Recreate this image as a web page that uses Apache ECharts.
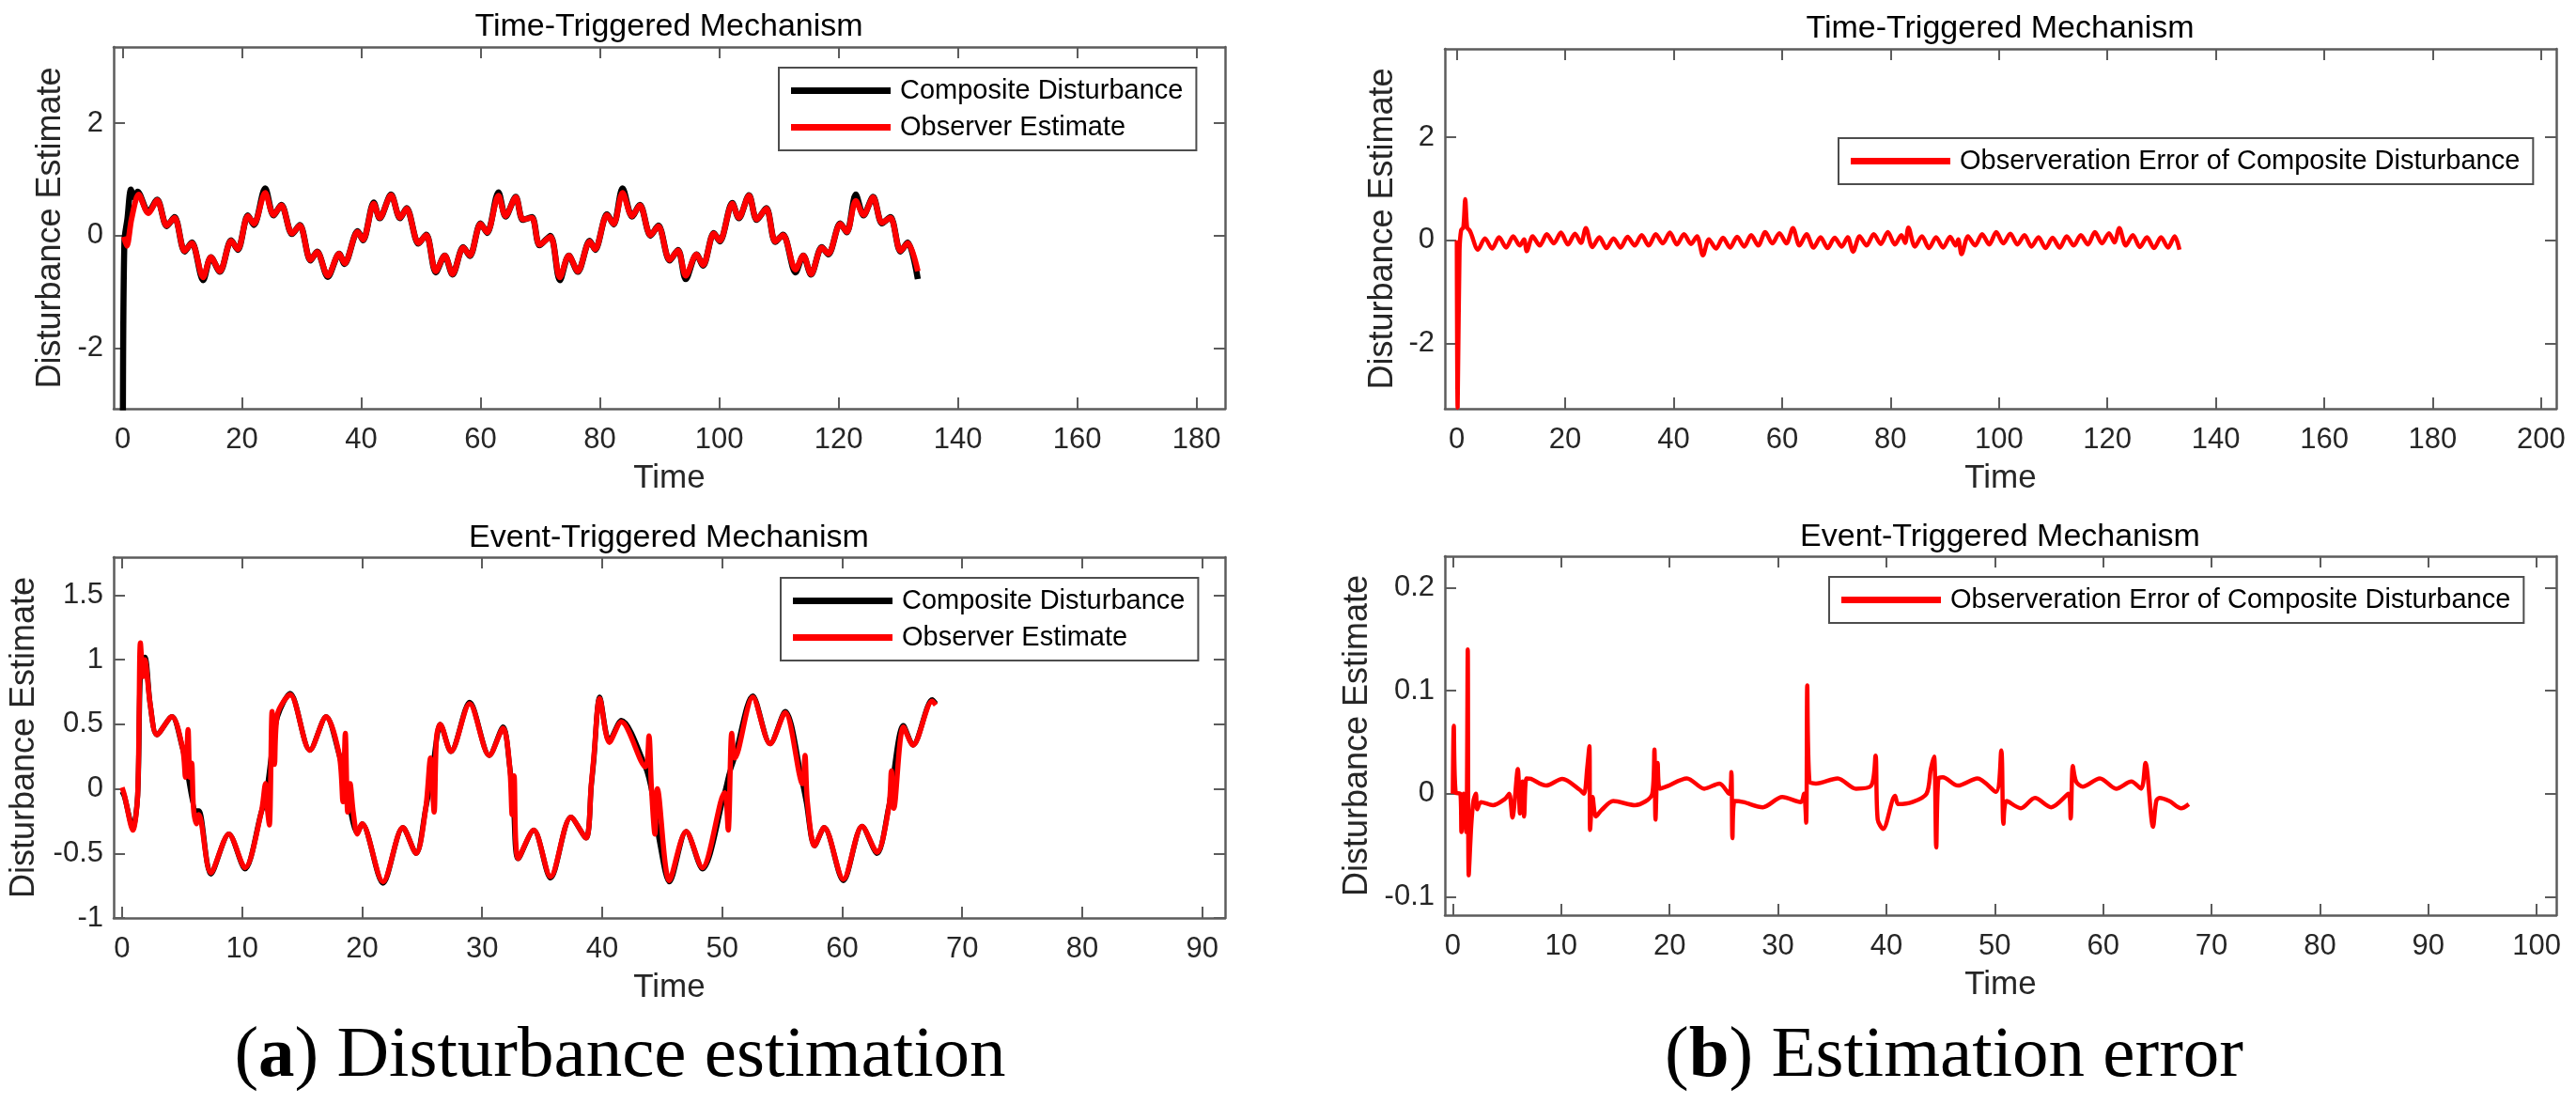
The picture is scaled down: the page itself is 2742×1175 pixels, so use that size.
<!DOCTYPE html>
<html>
<head>
<meta charset="utf-8">
<script src="https://cdn.jsdelivr.net/npm/echarts@6/dist/echarts.min.js"></script>
<style>
  html, body { margin: 0; padding: 0; background: #fff; }
  #chart { width: 2742px; height: 1175px; }
</style>
</head>
<body>
<div id="chart"></div>
<script>
// tick values
var ttTimeTicks = [0, 20, 40, 60, 80, 100, 120, 140, 160, 180];
var ttErrTimeTicks = [0, 20, 40, 60, 80, 100, 120, 140, 160, 180, 200];
var etTimeTicks = [0, 10, 20, 30, 40, 50, 60, 70, 80, 90];
var etErrTimeTicks = [0, 10, 20, 30, 40, 50, 60, 70, 80, 90, 100];
var ttValueTicks = [-2, 0, 2];
var etValueTicks = [-1, -0.5, 0, 0.5, 1, 1.5];
var etErrValueTicks = [-0.1, 0, 0.1, 0.2];

// time-triggered: [time, value]
var ttComposite = [[0.05,-3.1],[0.3,-0.1],[0.8,0.3],[1.4,0.82],[1.9,0.68],[2.5,0.78],[4.3,0.42],[5.8,0.64],[7.4,0.17],[8.7,0.33],[10.4,-0.28],[11.6,-0.12],[13.5,-0.79],[14.8,-0.38],[16.3,-0.64],[18.2,-0.08],[19.3,-0.25],[21.0,0.36],[22.0,0.19],[23.9,0.84],[25.3,0.36],[26.6,0.55],[28.4,0.03],[29.7,0.19],[31.5,-0.44],[32.6,-0.28],[34.4,-0.73],[36.3,-0.32],[37.2,-0.5],[39.4,0.08],[40.3,-0.08],[42.1,0.59],[43.1,0.31],[45.0,0.73],[46.5,0.31],[47.6,0.49],[49.6,-0.14],[50.9,0.02],[52.5,-0.65],[54.0,-0.35],[55.3,-0.69],[57.1,-0.2],[58.2,-0.36],[60.0,0.22],[61.1,0.05],[63.0,0.77],[64.2,0.34],[65.9,0.69],[67.1,0.28],[68.6,0.33],[69.9,-0.17],[71.7,0.0],[73.3,-0.79],[74.8,-0.35],[76.3,-0.64],[78.3,-0.09],[79.2,-0.25],[81.2,0.38],[82.3,0.2],[83.8,0.84],[85.4,0.34],[86.7,0.55],[88.5,0.0],[89.8,0.18],[91.7,-0.44],[93.1,-0.25],[94.4,-0.77],[96.2,-0.33],[97.3,-0.53],[99.1,0.05],[100.1,-0.1],[102.2,0.58],[103.3,0.31],[105.0,0.72],[106.3,0.28],[107.9,0.49],[109.4,-0.11],[110.7,0.02],[112.8,-0.65],[114.1,-0.35],[115.4,-0.69],[117.2,-0.2],[118.3,-0.33],[120.3,0.22],[121.4,0.06],[122.9,0.73],[124.2,0.36],[125.8,0.69],[127.3,0.22],[128.7,0.33],[130.4,-0.28],[131.6,-0.12],[133.3,-0.77]];
var ttEstimate = [[0.2,-0.02],[0.7,-0.18],[1.5,0.3],[2.7,0.73],[4.3,0.4],[5.8,0.63],[7.4,0.18],[8.7,0.32],[10.4,-0.27],[11.6,-0.13],[13.5,-0.74],[14.8,-0.38],[16.3,-0.63],[18.2,-0.09],[19.3,-0.24],[21.0,0.35],[22.0,0.21],[23.9,0.76],[25.3,0.37],[26.6,0.54],[28.4,0.04],[29.7,0.18],[31.5,-0.43],[32.6,-0.29],[34.4,-0.71],[36.3,-0.32],[37.2,-0.49],[39.4,0.07],[40.3,-0.07],[42.1,0.57],[43.1,0.32],[45.0,0.72],[46.5,0.32],[47.6,0.48],[49.6,-0.13],[50.9,0.01],[52.5,-0.63],[54.0,-0.35],[55.3,-0.68],[57.1,-0.21],[58.2,-0.35],[60.0,0.21],[61.1,0.06],[63.0,0.71],[64.2,0.35],[65.9,0.68],[67.1,0.29],[68.6,0.32],[69.9,-0.16],[71.7,-0.02],[73.3,-0.74],[74.8,-0.35],[76.3,-0.63],[78.3,-0.1],[79.2,-0.24],[81.2,0.37],[82.3,0.21],[83.8,0.76],[85.4,0.35],[86.7,0.54],[88.5,0.01],[89.8,0.17],[91.7,-0.43],[93.1,-0.26],[94.4,-0.71],[96.2,-0.33],[97.3,-0.52],[99.1,0.04],[100.1,-0.09],[102.2,0.57],[103.3,0.32],[105.0,0.71],[106.3,0.29],[107.9,0.48],[109.4,-0.1],[110.7,0.01],[112.8,-0.6],[114.1,-0.35],[115.4,-0.68],[117.2,-0.21],[118.3,-0.32],[120.3,0.21],[121.4,0.07],[122.9,0.62],[124.2,0.37],[125.8,0.68],[127.3,0.23],[128.7,0.32],[130.4,-0.27],[131.6,-0.13],[133.3,-0.63]];
var ttError = [[0,0.0],[0.15,-3.25],[0.5,-0.2],[0.8,0.2],[1.2,0.25],[1.55,0.8],[1.9,0.25],[2.3,0.2],[2.6,0.14],[3.9,-0.18],[5.2,0.04],[6.5,-0.16],[7.8,0.06],[9.1,-0.14],[10.4,0.08],[11.6,-0.1],[12.4,0.02],[12.9,-0.21],[14.0,0.08],[15.3,-0.1],[16.6,0.12],[17.9,-0.06],[19.2,0.15],[20.5,-0.08],[21.8,0.13],[22.9,-0.05],[23.8,0.24],[25.0,-0.13],[26.3,0.06],[27.6,-0.15],[28.9,0.04],[30.2,-0.14],[31.5,0.07],[32.8,-0.1],[34.1,0.1],[35.4,-0.1],[36.7,0.12],[38.0,-0.06],[39.3,0.15],[40.6,-0.08],[41.9,0.12],[43.2,-0.07],[44.3,0.08],[45.4,-0.29],[46.5,0.02],[47.8,-0.16],[49.1,0.05],[50.4,-0.14],[51.7,0.07],[53.0,-0.12],[54.3,0.1],[55.6,-0.1],[56.9,0.16],[58.2,-0.06],[59.5,0.14],[60.8,-0.06],[62.0,0.24],[63.2,-0.1],[64.5,0.12],[65.8,-0.14],[67.1,0.06],[68.4,-0.15],[69.7,0.05],[71.0,-0.12],[72.1,0.06],[73.1,-0.22],[74.3,0.08],[75.6,-0.1],[76.9,0.12],[78.2,-0.07],[79.5,0.16],[80.8,-0.08],[82.0,0.1],[82.7,-0.05],[83.3,0.25],[84.5,-0.12],[85.8,0.08],[87.1,-0.15],[88.4,0.06],[89.7,-0.14],[91.0,0.07],[92.0,-0.1],[92.5,0.02],[93.1,-0.27],[94.3,0.08],[95.6,-0.1],[96.9,0.12],[98.2,-0.08],[99.5,0.16],[100.8,-0.06],[102.1,0.13],[103.4,-0.08],[104.7,0.1],[106.0,-0.12],[107.3,0.06],[108.6,-0.15],[109.9,0.05],[111.2,-0.14],[112.5,0.08],[113.8,-0.1],[115.1,0.1],[116.4,-0.08],[117.7,0.16],[119.0,-0.06],[120.3,0.14],[121.3,-0.04],[122.2,0.24],[123.4,-0.1],[124.7,0.1],[126.0,-0.13],[127.3,0.06],[128.6,-0.15],[129.9,0.06],[131.2,-0.14],[132.4,0.08],[133.3,-0.18]];

// event-triggered: [time, value]
var etComposite = [[0,-0.02],[0.2,-0.06],[0.9,-0.3],[1.3,-0.05],[1.55,0.95],[1.9,1.02],[2.35,0.65],[2.9,0.42],[4.15,0.56],[5.05,0.31],[5.3,0.2],[6.2,-0.17],[6.4,-0.17],[7.4,-0.66],[8.9,-0.35],[10.24,-0.62],[11.6,-0.18],[12.0,-0.05],[12.5,0.3],[12.95,0.56],[14.0,0.74],[15.65,0.3],[17.0,0.56],[18.1,0.26],[18.6,0.05],[19.6,-0.34],[20.0,-0.27],[21.74,-0.73],[23.4,-0.3],[24.5,-0.5],[25.3,-0.15],[25.8,0.1],[26.2,0.38],[26.5,0.5],[27.4,0.29],[28.96,0.67],[30.6,0.26],[31.75,0.48],[32.3,0.17],[32.6,-0.1],[33.0,-0.54],[34.3,-0.32],[35.7,-0.69],[37.4,-0.22],[38.65,-0.38],[39.1,0.03],[39.3,0.22],[39.8,0.71],[40.6,0.37],[41.6,0.53],[43.6,0.17],[44.2,-0.05],[44.8,-0.42],[45.6,-0.72],[47.0,-0.33],[48.35,-0.62],[50.2,-0.03],[50.6,0.12],[51.06,0.25],[52.55,0.72],[54.0,0.35],[55.25,0.6],[56.7,0.04],[57.0,-0.1],[57.7,-0.44],[58.5,-0.3],[60.1,-0.71],[61.66,-0.29],[62.9,-0.5],[63.9,-0.13],[64.1,0.0],[65.1,0.49],[65.9,0.34],[67.5,0.69],[67.8,0.66]];
var etEstimate = [[0,0.01],[0.2,-0.05],[0.9,-0.32],[1.3,-0.05],[1.53,1.13],[1.76,0.87],[1.9,1.0],[2.35,0.65],[2.9,0.42],[4.15,0.56],[5.05,0.31],[5.28,0.09],[5.5,0.46],[5.64,0.09],[5.8,0.2],[5.95,-0.15],[6.2,-0.27],[6.4,-0.2],[7.4,-0.65],[8.9,-0.35],[10.24,-0.61],[11.6,-0.18],[11.95,0.04],[12.05,-0.1],[12.27,-0.28],[12.5,0.6],[12.7,0.19],[12.95,0.58],[14.0,0.73],[15.65,0.3],[17.0,0.56],[18.1,0.26],[18.4,-0.1],[18.6,0.43],[18.8,-0.18],[19.0,0.04],[19.26,-0.18],[19.6,-0.35],[20.0,-0.27],[21.74,-0.72],[23.4,-0.3],[24.5,-0.5],[25.3,-0.15],[25.7,0.24],[26.0,-0.18],[26.2,0.4],[26.5,0.5],[27.4,0.29],[28.96,0.66],[30.6,0.26],[31.75,0.47],[32.3,0.17],[32.5,-0.2],[32.66,0.1],[33.0,-0.54],[34.3,-0.32],[35.7,-0.68],[37.4,-0.22],[38.65,-0.38],[39.1,0.04],[39.3,0.24],[39.8,0.7],[40.6,0.36],[41.6,0.52],[43.6,0.17],[43.9,0.41],[44.1,0.02],[44.4,-0.35],[44.6,0.0],[45.6,-0.71],[47.0,-0.33],[48.35,-0.61],[50.2,-0.03],[50.5,-0.32],[50.8,0.43],[51.06,0.24],[52.55,0.71],[54.0,0.35],[55.25,0.59],[56.7,0.04],[56.9,0.26],[57.1,-0.1],[57.7,-0.44],[58.5,-0.3],[60.1,-0.7],[61.66,-0.29],[62.9,-0.49],[63.9,-0.13],[64.1,0.14],[64.3,-0.15],[65.1,0.48],[65.9,0.34],[67.5,0.68],[67.8,0.65]];
var etError = [[0,0],[0.09,0.066],[0.27,0.001],[0.7,0],[0.8,-0.037],[1.0,0],[1.24,-0.037],[1.38,0.14],[1.47,-0.079],[1.7,-0.031],[1.9,-0.007],[2.13,0],[2.25,-0.015],[2.6,-0.008],[3.7,-0.011],[4.8,-0.005],[5.2,0],[5.5,-0.023],[6.0,0.024],[6.2,-0.019],[6.44,0.012],[6.58,-0.022],[6.8,0.015],[7.2,0.0145],[8.6,0.008],[10.1,0.0145],[11.7,0.004],[12.1,0],[12.4,0.025],[12.6,0.046],[12.67,-0.035],[12.9,-0.003],[13.2,-0.022],[13.7,-0.016],[14.8,-0.007],[16.8,-0.011],[18.4,0],[18.6,0.043],[18.7,-0.025],[18.9,0.03],[19.1,0.005],[19.7,0.007],[21.6,0.015],[23.2,0.005],[24.6,0.01],[25.5,0],[25.7,0.021],[25.8,-0.043],[26.0,-0.007],[26.8,-0.008],[28.6,-0.013],[30.4,-0.003],[32.1,-0.008],[32.4,0],[32.6,-0.028],[32.7,0.105],[32.9,0.012],[33.5,0.01],[35.5,0.015],[37.2,0.005],[38.6,0.008],[39.0,0.037],[39.2,-0.025],[39.7,-0.034],[40.8,-0.002],[41.1,-0.01],[42.4,-0.008],[43.7,0],[44.1,0.024],[44.4,0.036],[44.6,-0.052],[44.8,0.015],[45.2,0.016],[46.6,0.008],[48.4,0.015],[50.1,0.002],[50.6,0.042],[50.8,-0.029],[51.1,-0.007],[52.4,-0.014],[53.7,-0.004],[55.2,-0.013],[56.8,0],[57.0,-0.024],[57.2,0.027],[57.5,0.012],[58.1,0.007],[59.7,0.015],[61.2,0.005],[62.6,0.012],[63.5,0.005],[63.9,0.03],[64.6,-0.032],[64.9,-0.007],[65.2,-0.004],[66.1,-0.007],[67.2,-0.014],[67.9,-0.01]];

var FONT = '"Liberation Sans", Arial, sans-serif';
var SERIF = '"Liberation Serif", "Times New Roman", serif';
var AXIS_COLOR = '#5c5c5c';
var LABEL_COLOR = '#262626';

// one entry per subplot: grid box, axis range, ticks
var panels = [
  { grid: { left: 121, top: 50, width: 1183, height: 385 }, x: [-1.5, 184.8], y: [-3.07, 3.35], xTicks: ttTimeTicks, yTicks: ttValueTicks, yGap: 49 },
  { grid: { left: 1538, top: 52, width: 1183, height: 383 }, x: [-2.2, 202.8], y: [-3.27, 3.72], xTicks: ttErrTimeTicks, yTicks: ttValueTicks, yGap: 48 },
  { grid: { left: 121, top: 593, width: 1183, height: 384 }, x: [-0.7, 91.9], y: [-1, 1.795], xTicks: etTimeTicks, yTicks: etValueTicks, yGap: 77 },
  { grid: { left: 1538, top: 592, width: 1183, height: 382 }, x: [-0.73, 101.8], y: [-0.1176, 0.2303], xTicks: etErrTimeTicks, yTicks: etErrValueTicks, yGap: 75 }
];

var grids = [], xAxes = [], yAxes = [];
panels.forEach(function (p, i) {
  grids.push(Object.assign({ containLabel: false, outerBoundsMode: 'none' }, p.grid));
  var line = { show: true, onZero: false, lineStyle: { color: AXIS_COLOR, width: 2.5 } };
  function tick(values) {
    return { show: true, inside: true, length: 12, customValues: values, lineStyle: { color: AXIS_COLOR, width: 2 } };
  }
  var labelStyle = { fontFamily: FONT, fontSize: 31, color: LABEL_COLOR };
  // bottom + top x axes
  xAxes.push({
    type: 'value', gridIndex: i, position: 'bottom', min: p.x[0], max: p.x[1],
    name: 'Time', nameLocation: 'middle', nameGap: 57,
    nameTextStyle: { fontFamily: FONT, fontSize: 35, color: LABEL_COLOR },
    axisLine: line, axisTick: tick(p.xTicks),
    axisLabel: Object.assign({ customValues: p.xTicks, margin: 18, showMinLabel: true, showMaxLabel: true }, labelStyle),
    splitLine: { show: false }
  });
  xAxes.push({
    type: 'value', gridIndex: i, position: 'top', min: p.x[0], max: p.x[1],
    axisLine: line, axisTick: tick(p.xTicks), axisLabel: { show: false }, splitLine: { show: false }
  });
  // left + right y axes
  yAxes.push({
    type: 'value', gridIndex: i, position: 'left', min: p.y[0], max: p.y[1],
    name: 'Disturbance Estimate', nameLocation: 'middle', nameGap: p.yGap,
    nameTextStyle: { fontFamily: FONT, fontSize: 36, color: LABEL_COLOR },
    axisLine: line, axisTick: tick(p.yTicks),
    axisLabel: Object.assign({ customValues: p.yTicks, margin: 11, showMinLabel: true, showMaxLabel: true }, labelStyle),
    splitLine: { show: false }
  });
  yAxes.push({
    type: 'value', gridIndex: i, position: 'right', min: p.y[0], max: p.y[1],
    axisLine: line, axisTick: tick(p.yTicks), axisLabel: { show: false }, splitLine: { show: false }
  });
});

function lineSeries(name, data, axis, color, width) {
  return {
    type: 'line', name: name, data: data,
    xAxisIndex: axis * 2, yAxisIndex: axis * 2,
    showSymbol: false, symbol: 'none', smooth: 0.3,
    lineStyle: { color: color, width: width },
    itemStyle: { color: color },
    emphasis: { disabled: true }
  };
}

function legendBox(names, left, top) {
  return {
    data: names, left: left, top: top, orient: 'vertical',
    icon: 'rect', itemWidth: 106, itemHeight: 7, itemGap: 10,
    padding: [10, 14, 10, 13],
    borderColor: '#4d4d4d', borderWidth: 2, backgroundColor: '#fff',
    selectedMode: false,
    textStyle: { fontFamily: FONT, fontSize: 29, color: '#000', padding: [0, 0, 0, 5] }
  };
}

function label(text, x, y, size) {
  return {
    type: 'text', x: x, y: y, silent: true,
    style: { text: text, fontFamily: FONT, fontSize: size, fill: '#000', align: 'center', verticalAlign: 'middle' }
  };
}

function caption(text, x, y) {
  return {
    type: 'text', x: x, y: y, silent: true,
    style: {
      text: text, fontFamily: SERIF, fontSize: 77, fill: '#000', align: 'center', verticalAlign: 'middle',
      rich: { b: { fontFamily: SERIF, fontSize: 77, fontWeight: 'bold', fill: '#000' } }
    }
  };
}

var errName = 'Observeration Error of Composite Disturbance';

var chart = echarts.init(document.getElementById('chart'));
chart.setOption({
  animation: false,
  backgroundColor: '#fff',
  grid: grids,
  xAxis: xAxes,
  yAxis: yAxes,
  legend: [
    legendBox(['Composite Disturbance', 'Observer Estimate'], 829, 72),
    legendBox([errName], 1957, 147),
    legendBox(['Composite Disturbance', 'Observer Estimate'], 831, 615),
    legendBox([errName], 1947, 614)
  ],
  graphic: [
    label('Time-Triggered Mechanism', 712, 29, 34),
    label('Time-Triggered Mechanism', 2129, 31, 34),
    label('Event-Triggered Mechanism', 712, 573, 34),
    label('Event-Triggered Mechanism', 2129, 572, 34),
    caption('({b|a}) Disturbance estimation', 660, 1125),
    caption('({b|b}) Estimation error', 2080, 1125)
  ],
  series: [
    lineSeries('Composite Disturbance', ttComposite, 0, '#000000', 6.5),
    lineSeries('Observer Estimate', ttEstimate, 0, '#ff0000', 6),
    lineSeries(errName, ttError, 1, '#ff0000', 4.5),
    lineSeries('Composite Disturbance', etComposite, 2, '#000000', 5.5),
    lineSeries('Observer Estimate', etEstimate, 2, '#ff0000', 5.5),
    lineSeries(errName, etError, 3, '#ff0000', 4.5)
  ]
});
</script>
</body>
</html>
